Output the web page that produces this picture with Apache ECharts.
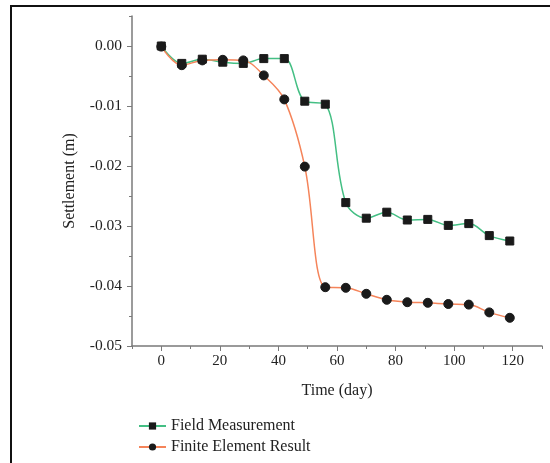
<!DOCTYPE html>
<html>
<head>
<meta charset="utf-8">
<script src="https://cdn.jsdelivr.net/npm/echarts@6/dist/echarts.min.js"></script>
<style>
html,body{margin:0;padding:0;background:#fff;}
#chart{width:550px;height:463px;}
</style>
</head>
<body>
<div id="chart"></div>
<script>
var days = [0, 7, 14, 21, 28, 35, 42, 49, 56, 63, 70, 77, 84, 91, 98, 105, 112, 119];
var fieldMeasurement = [0.0000, -0.0029, -0.0022, -0.0027, -0.0029, -0.0021, -0.0021, -0.0092, -0.0097, -0.0261, -0.0287, -0.0277, -0.0290, -0.0289, -0.0299, -0.0296, -0.0316, -0.0325];
var finiteElement = [-0.0001, -0.0032, -0.0024, -0.0023, -0.0024, -0.0049, -0.0089, -0.0201, -0.0402, -0.0403, -0.0413, -0.0423, -0.0427, -0.0428, -0.0430, -0.0431, -0.0444, -0.0453];
var xLabels = [0, 20, 40, 60, 80, 100, 120];
var xMinor = [-10, 10, 30, 50, 70, 90, 110, 130];
var yLabels = [-0.05, -0.04, -0.03, -0.02, -0.01, 0.00];
var yMinor = [-0.045, -0.035, -0.025, -0.015, -0.005, 0.005];
var seriesNames = ['Field Measurement', 'Finite Element Result'];

var font = '"Liberation Serif", "DejaVu Serif", serif';
var axisColor = '#7a7a7a';
function pairs(xs, ys) { return xs.map(function (x, i) { return [x, ys[i]]; }); }

var chart = echarts.init(document.getElementById('chart'));
chart.setOption({
  animation: false,
  backgroundColor: '#fff',
  graphic: [
    { type: 'polyline', shape: { points: [[11, 463], [11, 6], [550, 6]] }, style: { stroke: '#111', lineWidth: 2, fill: null }, silent: true }
  ],
  grid: { left: 132, right: 8, top: 16, bottom: 117, containLabel: false },
  legend: {
    orient: 'vertical', left: 133, top: 413, itemWidth: 27, itemHeight: 9, itemGap: 5,
    textStyle: { fontFamily: font, fontSize: 16, color: '#222' },
    data: seriesNames
  },
  xAxis: [
    {
      type: 'value', min: -10, max: 130, interval: 10,
      name: 'Time (day)', nameLocation: 'middle', nameGap: 37,
      nameTextStyle: { fontFamily: font, fontSize: 16, color: '#222' },
      axisLine: { show: true, onZero: false, lineStyle: { color: axisColor, width: 1.5 } },
      axisTick: { show: true, length: 5, customValues: xLabels, lineStyle: { color: axisColor } },
      axisLabel: { customValues: xLabels, margin: 8, fontFamily: font, fontSize: 15, color: '#222' },
      splitLine: { show: false }
    },
    {
      type: 'value', min: -10, max: 130, interval: 10, position: 'top', offset: -330,
      axisLine: { show: false, onZero: false },
      axisTick: { show: true, inside: true, length: 3, customValues: xMinor, lineStyle: { color: axisColor } },
      axisLabel: { show: false },
      splitLine: { show: false }
    }
  ],
  yAxis: [
    {
      type: 'value', min: -0.05, max: 0.005, interval: 0.005,
      name: 'Settlement (m)', nameLocation: 'middle', nameGap: 54,
      nameTextStyle: { fontFamily: font, fontSize: 16, color: '#222' },
      axisLine: { show: true, onZero: false, lineStyle: { color: axisColor, width: 1.5 } },
      axisTick: { show: true, length: 5, customValues: yLabels, lineStyle: { color: axisColor } },
      axisLabel: { customValues: yLabels, margin: 10, fontFamily: font, fontSize: 15.5, color: '#222',
        formatter: function (v) { return v.toFixed(2); } },
      splitLine: { show: false }
    },
    {
      type: 'value', min: -0.05, max: 0.005, interval: 0.005, position: 'right', offset: -410,
      axisLine: { show: false, onZero: false },
      axisTick: { show: true, inside: true, length: 3, customValues: yMinor, lineStyle: { color: axisColor } },
      axisLabel: { show: false },
      splitLine: { show: false }
    }
  ],
  series: [
    {
      name: seriesNames[0], type: 'line', xAxisIndex: 0, yAxisIndex: 0,
      data: pairs(days, fieldMeasurement), smooth: 0.35,
      symbol: 'rect', symbolSize: 8,
      lineStyle: { color: '#44bf84', width: 1.5 },
      itemStyle: { color: '#1a1a1a', borderColor: '#1a1a1a' }
    },
    {
      name: seriesNames[1], type: 'line', xAxisIndex: 0, yAxisIndex: 0,
      data: pairs(days, finiteElement), smooth: 0.35,
      symbol: 'circle', symbolSize: 9,
      lineStyle: { color: '#f5845a', width: 1.5 },
      itemStyle: { color: '#1a1a1a', borderColor: '#1a1a1a' }
    }
  ]
});
</script>
</body>
</html>
